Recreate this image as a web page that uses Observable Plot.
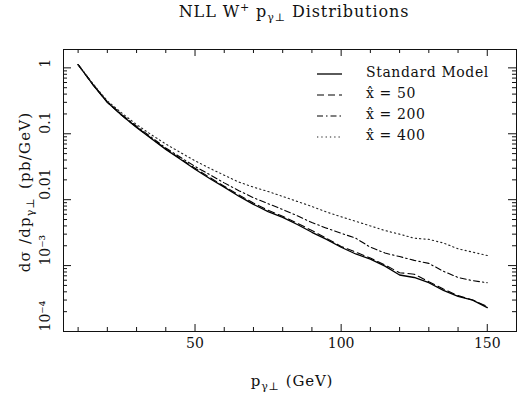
<!DOCTYPE html>
<html><head><meta charset="utf-8">
<script src="https://cdn.jsdelivr.net/npm/d3@7"></script>
<script src="https://cdn.jsdelivr.net/npm/@observablehq/plot@0.6"></script>
<style>body{margin:0;background:#fff} svg{display:block}</style>
</head><body><div id="chart"></div>
<script>
// ---- data ----
const pT   = [10,15,20,25,30,35,40,45,50,55,60,65,70,75,80,85,90,95,100,105,110,115,120,125,130,135,140,145,150];
const sm   = [1.12,0.56,0.30,0.19,0.125,0.085,0.058,0.041,0.029,0.021,0.0155,0.0113,0.0085,0.0066,0.0054,0.0042,0.0032,0.0025,0.0019,0.0015,0.00125,0.00098,0.00072,0.00066,0.00055,0.00042,0.00034,0.00030,0.00023];
const x50  = [1.12,0.56,0.30,0.19,0.126,0.086,0.059,0.042,0.030,0.0218,0.016,0.0118,0.0089,0.0069,0.0056,0.0044,0.0034,0.0026,0.00195,0.0016,0.0013,0.00102,0.00078,0.00074,0.00057,0.00044,0.00035,0.00030,0.00024];
const x200 = [1.12,0.57,0.305,0.195,0.13,0.089,0.061,0.044,0.032,0.024,0.018,0.0137,0.0107,0.0087,0.0071,0.0057,0.0045,0.0037,0.0031,0.0026,0.0019,0.00155,0.00137,0.0012,0.00108,0.00082,0.00066,0.00059,0.00055];
const x400 = [1.12,0.58,0.315,0.205,0.138,0.097,0.07,0.052,0.039,0.030,0.0235,0.0185,0.0155,0.0133,0.0112,0.0094,0.0079,0.0065,0.0055,0.0047,0.0040,0.0034,0.0030,0.0026,0.0025,0.0022,0.0018,0.0016,0.00142];

const seriesNames = ["Standard Model", "x\u0302 = 50", "x\u0302 = 200", "x\u0302 = 400"];
const seriesValues = [sm, x50, x200, x400];
const seriesDash = [null, "7,4", "6,3,1.5,3", "1.3,3"];
const seriesWidth = [1.3, 1.1, 1.1, 1.1];
const seriesColor = ["#000", "#000", "#000", "#222"];

const xMajor = [50, 100, 150];
const xMinor = [10, 20, 30, 40, 60, 70, 80, 90, 110, 120, 130, 140, 160];
const yMajor = [1e-4, 1e-3, 0.01, 0.1, 1];
const yTickLabels = ["10\u207B\u2074", "10\u207B\u00B3", "0.01", "0.1", "1"];
const yMinor = [];
for (const d of [1e-4, 1e-3, 1e-2, 1e-1, 1]) for (let k = 2; k <= 9; k++) if (k * d < 1.9) yMinor.push(+(k * d).toPrecision(3));

// ---- layout ----
const W = 517, H = 398;
const mL = 63, mR = 1, mT = 49, mB = 67;
const pw = W - mL - mR, ph = H - mT - mB;
const FONT = "DejaVu Serif";
const ink = "#111";

const rows = [];
seriesValues.forEach((vals, s) => vals.forEach((v, i) => rows.push({s, p: pT[i], v})));

const marks = [
  Plot.frame({stroke: ink, strokeWidth: 1}),
  // inward ticks
  Plot.tickX(xMajor, {x: d => d, insetTop: ph - 7, stroke: ink}),
  Plot.tickX(xMajor, {x: d => d, insetBottom: ph - 7, stroke: ink}),
  Plot.tickX(xMinor, {x: d => d, insetTop: ph - 4, stroke: ink}),
  Plot.tickX(xMinor, {x: d => d, insetBottom: ph - 4, stroke: ink}),
  Plot.tickY(yMajor, {y: d => d, insetRight: pw - 8, stroke: ink}),
  Plot.tickY(yMajor, {y: d => d, insetLeft: pw - 8, stroke: ink}),
  Plot.tickY(yMinor, {y: d => d, insetRight: pw - 4, stroke: ink}),
  Plot.tickY(yMinor, {y: d => d, insetLeft: pw - 4, stroke: ink}),
  // tick labels
  Plot.text(xMajor, {x: d => d, text: d => String(d), frameAnchor: "bottom", dy: 16, fontSize: 14, fill: ink}),
  Plot.text(yMajor, {y: d => d, text: (d, i) => yTickLabels[i], frameAnchor: "left", dx: -18, rotate: -90, fontSize: 14, fill: ink})
];
seriesValues.forEach((vals, s) => {
  marks.push(Plot.line(rows.filter(r => r.s === s), {
    x: "p", y: "v", stroke: seriesColor[s], strokeWidth: seriesWidth[s],
    strokeDasharray: seriesDash[s] || undefined, curve: "linear"
  }));
});

const svgPlot = Plot.plot({
  width: W, height: H,
  marginLeft: mL, marginRight: mR, marginTop: mT, marginBottom: mB,
  style: {fontFamily: FONT, background: "#fff", color: ink, overflow: "visible"},
  x: {domain: [5, 160], axis: null},
  y: {type: "log", domain: [1e-4, 1.9], axis: null},
  marks
});
document.getElementById("chart").appendChild(svgPlot);

// ---- titles, axis labels, legend ----
const svg = d3.select(svgPlot);
const g = svg.append("g").attr("font-family", FONT).attr("fill", ink);

// Title
const t = g.append("text").attr("x", 294).attr("y", 17).attr("text-anchor", "middle")
  .attr("font-size", 16).attr("letter-spacing", 0.9);
t.append("tspan").text("NLL W");
t.append("tspan").attr("font-size", 11).attr("dy", -6).text("+");
t.append("tspan").attr("dy", 6).text(" p");
t.append("tspan").attr("font-size", 11).attr("dy", 4).text("\u03B3\u22A5");
t.append("tspan").attr("dy", -4).text(" Distributions");

// X label
const xl = g.append("text").attr("x", 292).attr("y", 386).attr("text-anchor", "middle")
  .attr("font-size", 15).attr("letter-spacing", 0.8);
xl.append("tspan").text("p");
xl.append("tspan").attr("font-size", 11).attr("dy", 4).text("\u03B3\u22A5");
xl.append("tspan").attr("dy", -4).attr("dx", 6).text("(GeV)");

// Y label
const yl = g.append("text").attr("transform", "translate(30,192) rotate(-90)")
  .attr("text-anchor", "middle").attr("font-size", 15).attr("letter-spacing", 1.2);
yl.append("tspan").text("d\u03C3 /dp");
yl.append("tspan").attr("font-size", 11).attr("dy", 4).text("\u03B3\u22A5");
yl.append("tspan").attr("dy", -4).attr("dx", 8).text("(pb/GeV)");

// Legend
seriesNames.forEach((name, s) => {
  const by = 77 + 21 * s;
  g.append("line").attr("x1", 317).attr("x2", 342).attr("y1", by - 3).attr("y2", by - 3)
    .attr("stroke", seriesColor[s]).attr("stroke-width", seriesWidth[s])
    .attr("stroke-dasharray", seriesDash[s]);
  g.append("text").attr("x", 366).attr("y", by).attr("font-size", 14)
    .attr("text-anchor", "start").attr("letter-spacing", 0.6).text(name);
});
</script>
</body></html>
